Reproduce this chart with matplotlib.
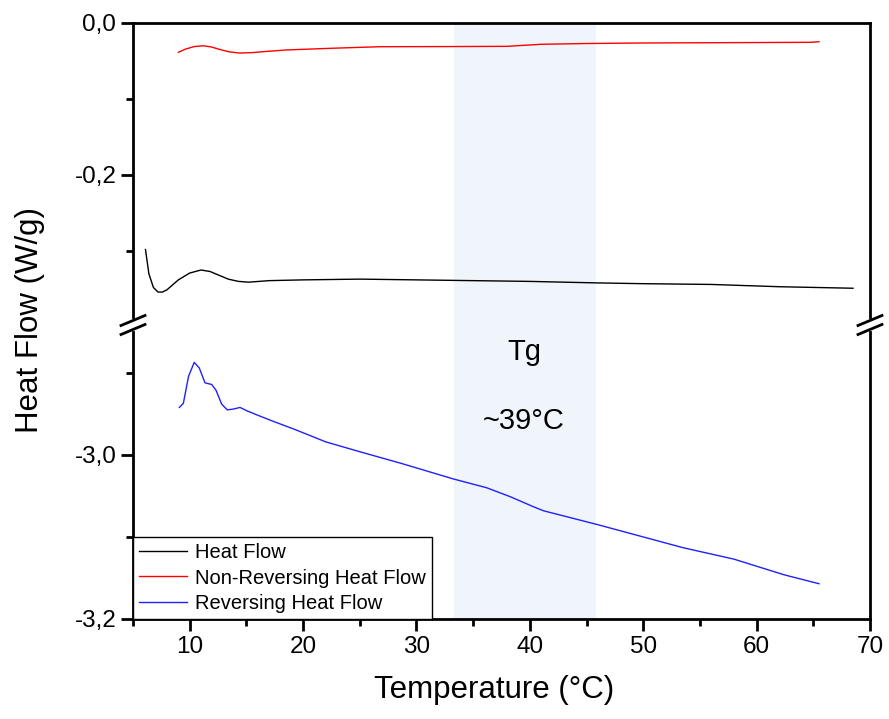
import matplotlib
matplotlib.use('Agg')
import matplotlib.pyplot as plt
from matplotlib.ticker import FuncFormatter, MultipleLocator
from matplotlib.lines import Line2D

plt.rcParams['font.family'] = ['Liberation Sans', 'DejaVu Sans']

# --- Data --- #
temp_hf = [6.1, 6.4, 6.8, 7.2, 7.6, 8.0, 9.0, 10.0, 11.0, 11.8, 12.6, 13.4, 14.3, 15.2,
           17.0, 20.0, 25.0, 30.0, 35.0, 40.0, 46.0, 50.0, 56.0, 62.0, 68.5]
heat_flow = [-0.298, -0.330, -0.348, -0.354, -0.354, -0.351, -0.338, -0.329, -0.325,
             -0.327, -0.332, -0.337, -0.340, -0.341, -0.339, -0.338, -0.337, -0.338,
             -0.339, -0.340, -0.342, -0.343, -0.344, -0.347, -0.349]

temp_nr = [9.0, 9.6, 10.4, 11.2, 11.9, 12.6, 13.5, 14.4, 15.5, 16.5, 18.5, 22.4, 26.8,
           33.0, 38.0, 41.0, 45.0, 50.0, 55.0, 60.0, 64.8, 65.5]
nonrev_hf = [-0.0386, -0.0345, -0.031, -0.030, -0.0315, -0.0346, -0.038, -0.0395,
             -0.039, -0.0377, -0.0355, -0.0333, -0.0312, -0.031, -0.0307, -0.028,
             -0.027, -0.0263, -0.026, -0.0257, -0.0254, -0.0246]

temp_rev = [9.09, 9.44, 9.9, 10.4, 10.85, 11.35, 11.94, 12.32, 12.82, 13.32, 13.84,
            14.44, 15.03, 15.91, 17.38, 19.3, 22.0, 25.0, 28.6, 30.3, 33.2, 36.2,
            38.3, 40.3, 41.2, 46.0, 53.5, 58.0, 62.4, 65.5]
rev_hf = [-2.942, -2.937, -2.904, -2.887, -2.894, -2.912, -2.914, -2.921, -2.938,
          -2.945, -2.944, -2.942, -2.946, -2.951, -2.959, -2.969, -2.984, -2.996,
          -3.010, -3.017, -3.029, -3.040, -3.051, -3.063, -3.068, -3.085, -3.113,
          -3.127, -3.146, -3.157]

tg_range = (33.28, 45.85)
tg_labels = ['Tg', '~39°C']

# --- Figure / broken axes --- #
W, H = 889, 719
fig = plt.figure(figsize=(W / 100, H / 100), dpi=100)

left, right = 133 / W, 870 / W
top_px, brk_px, bot_px = 23, 325, 619
ax_top = fig.add_axes([left, 1 - brk_px / H, right - left, (brk_px - top_px) / H])
ax_bot = fig.add_axes([left, 1 - bot_px / H, right - left, (bot_px - brk_px) / H])

ax_top.set_ylim(-(brk_px - top_px) / 760, 0)
ax_bot.set_ylim(-3.2, -3.2 + (bot_px - brk_px) / 820)
for ax in (ax_top, ax_bot):
    ax.set_xlim(5, 70)
    ax.axvspan(*tg_range, color='#eff5fa', lw=0, zorder=0)
    for s in ax.spines.values():
        s.set_linewidth(2)
    ax.tick_params(which='major', direction='out', length=8.5, width=2, labelsize=17.5)
    ax.tick_params(which='minor', direction='out', length=5, width=2)
    ax.xaxis.set_major_locator(MultipleLocator(10))
    ax.xaxis.set_minor_locator(MultipleLocator(5))
    ax.yaxis.set_major_locator(MultipleLocator(0.2))
    ax.yaxis.set_minor_locator(MultipleLocator(0.1))
    ax.yaxis.set_major_formatter(FuncFormatter(lambda v, p: f'{v:.1f}'.replace('.', ',')))

ax_top.spines['bottom'].set_visible(False)
ax_top.tick_params(axis='x', which='both', bottom=False, labelbottom=False)
ax_bot.spines['top'].set_visible(False)

# --- Curves --- #
l1, = ax_top.plot(temp_hf, heat_flow, color='black', lw=1)
l2, = ax_top.plot(temp_nr, nonrev_hf, color='red', lw=1)
l3, = ax_bot.plot(temp_rev, rev_hf, color='#2020ff', lw=1)

# Tg annotation
ax_bot.text(39.5, -2.874, tg_labels[0], ha='center', va='center', fontsize=21)
ax_bot.text(39.5, -2.959, tg_labels[1], ha='center', va='center', fontsize=21)

# break marks (white cut in the spine, then two slashes)
ymid = 1 - brk_px / H
for xf in (left, right):
    fig.add_artist(Line2D([xf, xf], [ymid - 4 / H, ymid + 4 / H], color='white', lw=3))
    for dy in (-4.5, 4.5):
        y0 = ymid + dy / H
        fig.add_artist(Line2D([xf - 12 / W, xf + 12 / W], [y0 - 5 / H, y0 + 5 / H],
                              color='black', lw=2))

# labels
fig.text(30 / W, 1 - 320 / H, 'Heat Flow (W/g)', rotation=90, ha='center', va='center', fontsize=22.5)
fig.text(494 / W, 1 - 690 / H, 'Temperature (°C)', ha='center', va='center', fontsize=22.5)

leg = ax_bot.legend([l1, l2, l3], ['Heat Flow', 'Non-Reversing Heat Flow', 'Reversing Heat Flow'],
                    loc='lower left', bbox_to_anchor=(0, 0), borderaxespad=0, fontsize=14.5,
                    fancybox=False, framealpha=1, edgecolor='black', handlelength=2.4,
                    handletextpad=0.4, borderpad=0.3, labelspacing=0.32)
leg.get_frame().set_linewidth(1)

fig.savefig('out.png', dpi=100)
